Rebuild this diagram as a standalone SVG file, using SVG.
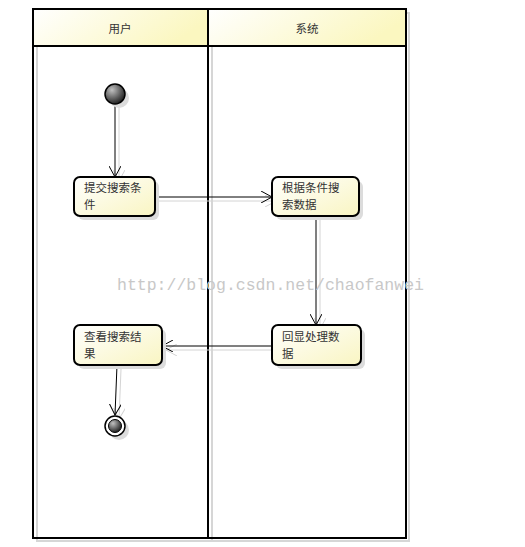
<svg xmlns="http://www.w3.org/2000/svg" width="525" height="547" viewBox="0 0 525 547">
<defs>
<linearGradient id="hdr" x1="0" y1="0" x2="1" y2="0.3">
<stop offset="0" stop-color="#ffffff"/><stop offset="1" stop-color="#fbf7c0"/>
</linearGradient>
<linearGradient id="act" x1="0" y1="0" x2="1" y2="1">
<stop offset="0" stop-color="#ffffff"/><stop offset="1" stop-color="#f9f5c2"/>
</linearGradient>
<radialGradient id="ball" cx="0.35" cy="0.3" r="0.75">
<stop offset="0" stop-color="#c0c0c0"/><stop offset="1" stop-color="#1a1a1a"/>
</radialGradient>
<marker id="arr" viewBox="0 0 12 12" refX="11" refY="6" markerWidth="12" markerHeight="12" markerUnits="userSpaceOnUse" orient="auto">
<path d="M0,0 L11,6 L0,12" fill="none" stroke="#000" stroke-width="1"/>
</marker>
<marker id="arrs" viewBox="0 0 12 12" refX="11" refY="6" markerWidth="12" markerHeight="12" markerUnits="userSpaceOnUse" orient="auto">
<path d="M0,0 L11,6 L0,12" fill="none" stroke="#d4d4d4" stroke-width="1"/>
</marker>
</defs>
<style>
.shadow{fill:none;stroke:#d6d6d6;stroke-width:2}
.shfill{fill:#dcdcdc;stroke:none}
.lane{fill:none;stroke:#000;stroke-width:2}
.hdr{fill:url(#hdr);stroke:#000;stroke-width:2}
.act{fill:url(#act);stroke:#000;stroke-width:2}
.t{font-family:"Noto Sans CJK SC","Liberation Sans",sans-serif;font-size:11.5px;fill:#333}
.c{stroke:#000;stroke-width:1;fill:none;marker-end:url(#arr)}
.cs{stroke:#d4d4d4;stroke-width:1;fill:none;marker-end:url(#arrs)}
.wm{font-family:"Liberation Mono",monospace;font-size:16.5px;fill:#c8c8c8}
</style>
<rect width="525" height="547" fill="#fff"/>
<g id="swimlanes">
<rect class="shadow" x="37" y="13" width="372" height="528"/>
<line class="shadow" x1="212" y1="13" x2="212" y2="541"/>
<rect class="hdr" x="33" y="9" width="175" height="37"/>
<rect class="hdr" x="208" y="9" width="198" height="37"/>
<rect class="lane" x="33" y="9" width="373" height="529"/>
<line class="lane" x1="208" y1="9" x2="208" y2="538" stroke-width="2.5"/>
<text class="t" x="120" y="33" text-anchor="middle">用户</text>
<text class="t" x="307" y="33" text-anchor="middle">系统</text>
</g>
<g id="connectors">
<path class="cs" d="M119,108 L119,181"/>
<path class="c" d="M115,104 L115,177"/>
<path class="cs" d="M159,201 L276,201"/>
<path class="c" d="M155,197 L272,197"/>
<path class="cs" d="M320,220 L320,329"/>
<path class="c" d="M316,216 L316,325"/>
<path class="cs" d="M276,350 L166,350"/>
<path class="c" d="M272,346 L162,346"/>
<path class="cs" d="M121,369 L119,419"/>
<path class="c" d="M117,365 L115,415"/>
</g>
<g id="start">
<circle class="shfill" cx="119" cy="98" r="10"/>
<circle cx="115" cy="94" r="10" fill="url(#ball)" stroke="#000" stroke-width="1.5"/>
</g>
<g id="n1">
<rect class="shfill" x="78" y="181" width="81" height="39" rx="6"/>
<rect class="act" x="74" y="177" width="81" height="39" rx="6"/>
<text class="t" x="84" y="192">提交搜索条</text>
<text class="t" x="84" y="209">件</text>
</g>
<g id="n2">
<rect class="shfill" x="276" y="181" width="87" height="39" rx="6"/>
<rect class="act" x="272" y="177" width="87" height="39" rx="6"/>
<text class="t" x="282" y="192">根据条件搜</text>
<text class="t" x="282" y="209">索数据</text>
</g>
<g id="n3">
<rect class="shfill" x="276" y="329" width="89" height="40" rx="6"/>
<rect class="act" x="272" y="325" width="89" height="40" rx="6"/>
<text class="t" x="282" y="341">回显处理数</text>
<text class="t" x="282" y="358">据</text>
</g>
<g id="n4">
<rect class="shfill" x="78" y="329" width="88" height="40" rx="6"/>
<rect class="act" x="74" y="325" width="88" height="40" rx="6"/>
<text class="t" x="84" y="341">查看搜索结</text>
<text class="t" x="84" y="358">果</text>
</g>
<g id="end">
<circle class="shfill" cx="119" cy="430" r="10"/>
<circle cx="115" cy="426" r="10" fill="#fff" stroke="#000" stroke-width="1.5"/>
<circle cx="115" cy="426" r="6.5" fill="url(#ball)" stroke="#000" stroke-width="1"/>
</g>
<text class="wm" x="117" y="290">http://blog.csdn.net/chaofanwei</text>
</svg>
